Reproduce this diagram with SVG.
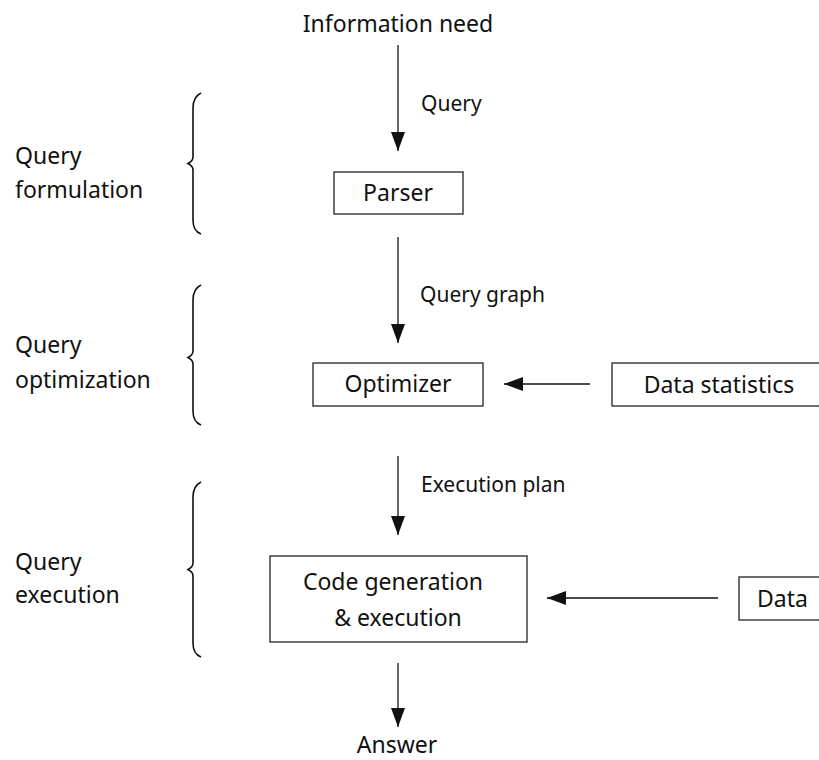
<svg xmlns="http://www.w3.org/2000/svg" width="819" height="760" viewBox="0 0 819 760">
  <style>
    text { font-family: "Noto Sans", "Open Sans", "Liberation Sans", sans-serif; fill: #111; }
    .main { font-size: 23px; }
    .lbl { font-size: 21px; }
    .box { fill: #fff; stroke: #222; stroke-width: 1.3; }
    .edge { fill: none; stroke: #111; stroke-width: 1.3; }
    .brace { fill: none; stroke: #111; stroke-width: 1.6; }
  </style>
  <defs>
    <marker id="head" markerUnits="userSpaceOnUse" markerWidth="20" markerHeight="14" viewBox="0 0 20 14" refX="19" refY="7" orient="auto">
      <path d="M0,0 L19,7 L0,14 Z" fill="#111"/>
    </marker>
  </defs>
  <rect width="819" height="760" fill="#fff"/>

  <!-- stage braces and their captions -->
  <g id="stage-formulation">
    <path class="brace" d="M201,93 Q193,97 193,108 L193,157 Q193,161 188,163.5 Q193,166 193,170 L193,220 Q193,231 201,234"/>
    <text class="main" x="15" y="164">Query</text>
    <text class="main" x="15" y="198">formulation</text>
  </g>
  <g id="stage-optimization">
    <path class="brace" d="M201,285 Q193,289 193,300 L193,351 Q193,355 188,357.5 Q193,360 193,364 L193,411 Q193,422 201,425"/>
    <text class="main" x="15" y="353">Query</text>
    <text class="main" x="15" y="388">optimization</text>
  </g>
  <g id="stage-execution">
    <path class="brace" d="M201,482 Q193,486 193,497 L193,563 Q193,567 188,569.5 Q193,572 193,576 L193,643 Q193,654 201,657"/>
    <text class="main" x="15" y="570">Query</text>
    <text class="main" x="15" y="603">execution</text>
  </g>

  <!-- start and end terms -->
  <g id="information-need">
    <text class="main" x="398" y="32" text-anchor="middle">Information need</text>
  </g>
  <g id="answer">
    <text class="main" x="397" y="753" text-anchor="middle">Answer</text>
  </g>

  <!-- processing nodes -->
  <g id="parser">
    <rect class="box" x="334" y="172" width="129" height="42"/>
    <text class="main" x="398" y="201" text-anchor="middle">Parser</text>
  </g>
  <g id="optimizer">
    <rect class="box" x="313" y="363" width="170" height="43"/>
    <text class="main" x="398" y="392" text-anchor="middle">Optimizer</text>
  </g>
  <g id="data-statistics">
    <rect class="box" x="612" y="363" width="215" height="43"/>
    <text class="main" x="719" y="393" text-anchor="middle">Data statistics</text>
  </g>
  <g id="code-generation">
    <rect class="box" x="270" y="556" width="257" height="86"/>
    <text class="main" x="393" y="590" text-anchor="middle">Code generation</text>
    <text class="main" x="398" y="626" text-anchor="middle">&amp; execution</text>
  </g>
  <g id="data">
    <rect class="box" x="739" y="577" width="90" height="43"/>
    <text class="main" x="757" y="607">Data</text>
  </g>

  <!-- connectors -->
  <g id="connectors">
    <line class="edge" x1="398" y1="45" x2="398" y2="151" marker-end="url(#head)"/>
    <line class="edge" x1="398" y1="237" x2="398" y2="343" marker-end="url(#head)"/>
    <line class="edge" x1="398" y1="456" x2="398" y2="535" marker-end="url(#head)"/>
    <line class="edge" x1="398" y1="663" x2="398" y2="727" marker-end="url(#head)"/>
    <line class="edge" x1="590" y1="384" x2="504" y2="384" marker-end="url(#head)"/>
    <line class="edge" x1="718" y1="598" x2="547" y2="598" marker-end="url(#head)"/>
    <text class="lbl" x="421" y="111">Query</text>
    <text class="lbl" x="420" y="302">Query graph</text>
    <text class="lbl" x="421" y="492">Execution plan</text>
  </g>
</svg>
